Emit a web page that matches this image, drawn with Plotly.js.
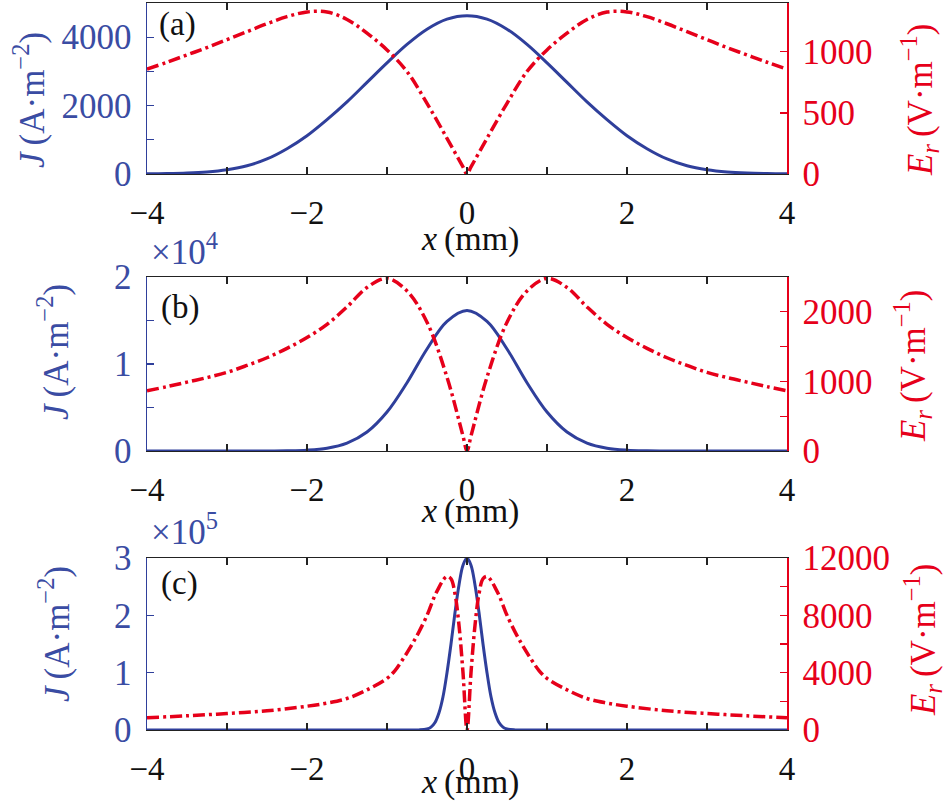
<!DOCTYPE html>
<html>
<head>
<meta charset="utf-8">
<script src="https://cdn.plot.ly/plotly-3.0.1.min.js"></script>
<style>html,body{margin:0;padding:0;background:#fff;}#chart{width:947px;height:801px;}</style>
</head>
<body>
<div id="chart"></div>
<script>
// x grids (mm)
const xJ = [-4,-3.75,-3.5,-3.25,-3,-2.75,-2.5,-2.25,-2,-1.75,-1.5,-1.25,-1,-0.75,-0.5,-0.25,0,0.25,0.5,0.75,1,1.25,1.5,1.75,2,2.25,2.5,2.75,3,3.25,3.5,3.75,4];
const xE = [-4,-3.75,-3.5,-3.25,-3,-2.75,-2.5,-2.25,-2,-1.75,-1.5,-1.25,-1,-0.75,-0.5,-0.25,-0.05,0,0.05,0.25,0.5,0.75,1,1.25,1.5,1.75,2,2.25,2.5,2.75,3,3.25,3.5,3.75,4];
// panel (a): J (A/m^2) on xJ, E_r (V/m) on xE
const jA = [4,11,27,60,125,240,440,740,1120,1590,2110,2680,3250,3790,4235,4530,4630,4530,4235,3790,3250,2680,2110,1590,1120,740,440,240,125,60,27,11,4];
const eA = [858,915,975,1035,1100,1165,1230,1288,1327,1326,1265,1153,1016,839,579,292,58,0,58,292,579,839,1016,1153,1265,1326,1327,1288,1230,1165,1100,1035,975,915,858];
// panel (b)
const jB = [0,0,0,0,0,1,5,25,95,318,903,2180,4480,7850,11730,14900,16150,14900,11730,7850,4480,2180,903,318,95,25,5,1,0,0,0,0,0];
const eB = [865,925,990,1055,1130,1230,1340,1475,1630,1820,2070,2350,2480,2300,1850,1060,215,0,215,1060,1850,2300,2480,2350,2070,1820,1630,1475,1340,1230,1130,1055,990,925,865];
// panel (c)
const xC = [-4,-3.5,-3,-2.5,-2,-1.75,-1.5,-1.25,-1,-0.9,-0.8,-0.7,-0.6,-0.5,-0.45,-0.4,-0.35,-0.3,-0.25,-0.2,-0.15,-0.1,-0.05,0,0.05,0.1,0.15,0.2,0.25,0.3,0.35,0.4,0.45,0.5,0.6,0.7,0.8,0.9,1,1.25,1.5,1.75,2,2.5,3,3.5,4];
const jC = [0,0,0,0,0,0,0,0,0,0,0,0,200,1800,5000,13000,30000,58000,100000,150000,205000,253000,287500,300000,287500,253000,205000,150000,100000,58000,30000,13000,5000,1800,200,0,0,0,0,0,0,0,0,0,0,0,0];
const eC = [855,990,1150,1340,1660,1880,2200,2800,3600,4150,4950,5850,6850,8000,8700,9400,9950,10450,10720,10550,9500,7300,4000,0,4000,7300,9500,10550,10720,10450,9950,9400,8700,8000,6850,5850,4950,4150,3600,2800,2200,1880,1660,1340,1150,990,855];

// tick labels
const jBTicks = [0,10000,20000], jBLabels = ['0','1','2'];
const jCTicks = [0,100000,200000,300000], jCLabels = ['0','1','2','3'];
const eCTicks = [0,4000,8000,12000], eCLabels = ['0','4000','8000','12000'];

const BLUE = '#2f3f9b', BLUE_T = '#3a4ca3', RED = '#e6001a';
const FONT = 'Liberation Serif, Times New Roman, serif';
const W = 947, H = 801;
const px = v => v / W, py = v => (H - v) / H;

function xAx(anchor) {
  return {
    domain: [px(147), px(787)], range: [-4, 4], anchor: anchor,
    tickmode: 'linear', tick0: -4, dtick: 2,
    ticks: 'inside', ticklen: 7, tickwidth: 1.2, tickcolor: '#222',
    minor: {tickmode: 'linear', tick0: -4, dtick: 1, ticks: 'inside', ticklen: 7, tickwidth: 1.2, tickcolor: '#222'},
    showline: true, linecolor: '#222', linewidth: 1.2, mirror: 'ticks',
    showgrid: false, zeroline: false, automargin: false,
    tickfont: {family: FONT, size: 33, color: '#111'}, ticklabelstandoff: 9
  };
}
function yAx(top, bottom, range, major, minorDt, color, tcolor, side, anchor, overlay) {
  const a = {
    domain: [py(bottom), py(top)], range: range, anchor: anchor, side: side,
    ticks: 'inside', ticklen: 7, tickwidth: 1.2, tickcolor: color,
    showline: true, linecolor: color, linewidth: 1.5,
    showgrid: false, zeroline: false, automargin: false, exponentformat: 'none',
    tickfont: {family: FONT, size: 35, color: tcolor}, ticklabelstandoff: 7
  };
  if (major.vals) { a.tickmode = 'array'; a.tickvals = major.vals; a.ticktext = major.text; }
  else { a.tickmode = 'linear'; a.tick0 = 0; a.dtick = major.dtick; }
  if (minorDt) a.minor = {tickmode: 'linear', tick0: 0, dtick: minorDt, ticks: 'inside', ticklen: 7, tickwidth: 1.2, tickcolor: color};
  if (overlay) a.overlaying = overlay;
  return a;
}

const jLine = {color: BLUE, width: 3, shape: 'spline', smoothing: 1};
const eLine = {color: RED, width: 3.5, dash: '12px,4px,3px,4px', shape: 'spline', smoothing: 1};

const data = [
  {x: xJ, y: jA, xaxis: 'x', yaxis: 'y', mode: 'lines', line: jLine},
  {x: xE, y: eA, xaxis: 'x', yaxis: 'y2', mode: 'lines', line: eLine},
  {x: xJ, y: jB, xaxis: 'x2', yaxis: 'y3', mode: 'lines', line: jLine},
  {x: xE, y: eB, xaxis: 'x2', yaxis: 'y4', mode: 'lines', line: eLine},
  {x: xC, y: jC, xaxis: 'x3', yaxis: 'y5', mode: 'lines', line: jLine},
  {x: xC, y: eC, xaxis: 'x3', yaxis: 'y6', mode: 'lines', line: eLine}
];

function ann(text, x, y, opts) {
  return Object.assign({text: text, x: px(x), y: py(y), xref: 'paper', yref: 'paper', showarrow: false,
    xanchor: 'center', yanchor: 'middle', font: {family: FONT, size: 34, color: '#111'}}, opts || {});
}
const jTitle = '<i>J</i>\u2009(A\u00b7m<sup>\u22122</sup>)';
const eTitle = '<i>E<sub>r</sub></i>\u2009(V\u00b7m<sup>\u22121</sup>)';
const xTitle = '<i>x</i>\u2009(mm)';
const lblFont = {family: FONT, size: 33, color: '#111'};
const multFont = {family: FONT, size: 35, color: BLUE_T};
const jFont = {family: FONT, size: 35, color: BLUE_T};
const eFont = {family: FONT, size: 35, color: RED};

const annotations = [
  ann('(a)', 157, 25, {xanchor: 'left', font: lblFont}),
  ann('(b)', 159, 307, {xanchor: 'left', font: lblFont}),
  ann('(c)', 159, 583, {xanchor: 'left', font: lblFont}),
  ann('\u00d710<sup>4</sup>', 149, 274, {xanchor: 'left', yanchor: 'bottom', font: multFont}),
  ann('\u00d710<sup>5</sup>', 149, 554, {xanchor: 'left', yanchor: 'bottom', font: multFont}),
  ann(xTitle, 470, 239),
  ann(xTitle, 470, 511),
  ann(xTitle, 470, 782),
  ann(jTitle, 30, 100, {textangle: -90, font: jFont}),
  ann(jTitle, 54, 352, {textangle: -90, font: jFont}),
  ann(jTitle, 54, 634, {textangle: -90, font: jFont}),
  ann(eTitle, 920, 100, {textangle: -90, font: eFont}),
  ann(eTitle, 912, 366, {textangle: -90, font: eFont}),
  ann(eTitle, 922, 640, {textangle: -90, font: eFont})
];

const layout = {
  width: W, height: H, margin: {l: 0, r: 0, t: 0, b: 0},
  paper_bgcolor: '#fff', plot_bgcolor: '#fff', showlegend: false,
  xaxis: xAx('y'),
  xaxis2: xAx('y3'),
  xaxis3: xAx('y5'),
  yaxis: yAx(3, 174, [0, 5000], {dtick: 2000}, 1000, BLUE, BLUE_T, 'left', 'x'),
  yaxis2: yAx(3, 174, [0, 1400], {dtick: 500}, 0, RED, RED, 'right', 'x', 'y'),
  yaxis3: yAx(277, 451, [0, 20000], {vals: jBTicks, text: jBLabels}, 5000, BLUE, BLUE_T, 'left', 'x2'),
  yaxis4: yAx(277, 451, [0, 2500], {dtick: 1000}, 500, RED, RED, 'right', 'x2', 'y3'),
  yaxis5: yAx(558, 730, [0, 300000], {vals: jCTicks, text: jCLabels}, 0, BLUE, BLUE_T, 'left', 'x3'),
  yaxis6: yAx(558, 730, [0, 12000], {vals: eCTicks, text: eCLabels}, 2000, RED, RED, 'right', 'x3', 'y5'),
  annotations: annotations
};

Plotly.newPlot('chart', data, layout, {displayModeBar: false, staticPlot: true});
</script>
</body>
</html>
